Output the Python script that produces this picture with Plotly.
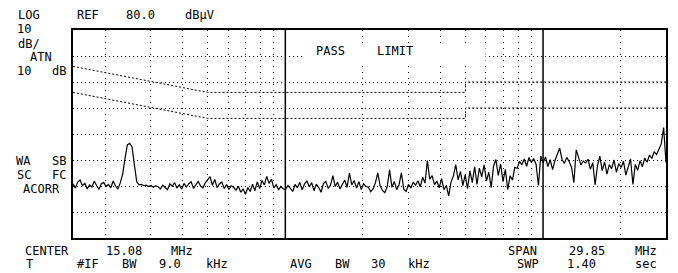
import re
import numpy as np
import plotly.graph_objects as go

# ---------------- data ----------------
# measured trace levels (dBuV), sweep 0.15 MHz .. 30 MHz (log display)
seg_a = [20.8, 19.2, 21.5, 22.3, 20.1, 21.0, 18.9, 20.4, 19.6, 21.8, 20.2, 18.7,
         20.9, 21.4, 19.8, 20.6, 19.3, 21.9, 20.0, 18.8, 21.2]
seg_b = [24.5, 30.5, 35.8, 36.4, 35.0, 28.0, 21.5]
seg_c = [20.4, 20.6, 20.1, 20.3, 19.8, 20.2, 19.5, 20.0, 19.7, 18.9, 20.3, 19.4,
         18.6, 20.8, 19.9, 21.3, 19.2, 20.5, 18.8, 21.0, 19.6, 20.9, 21.6, 19.1,
         20.4, 21.8, 20.0, 19.3, 21.2, 22.4, 23.6, 20.3, 22.5, 19.4, 20.8, 21.5,
         19.0, 20.6, 18.7, 20.1, 19.5, 18.4, 19.9, 17.6, 18.9, 16.8, 19.4, 17.9,
         20.7, 18.2, 21.6, 19.0, 22.1, 20.4, 23.7, 21.0, 22.6, 19.3, 20.5, 18.6,
         19.8, 18.9]
seg_d = [18.7, 20.2, 19.0, 17.9, 20.6, 19.3, 21.4, 18.5, 20.8, 22.0, 19.6, 21.3,
         18.2, 20.7, 19.4, 17.6, 20.9, 21.8, 19.1, 20.3, 24.0, 19.8, 21.5, 18.9,
         20.6, 22.3, 19.5, 25.0, 20.4, 22.1, 19.2, 21.7, 18.6, 20.9, 19.8]
seg_e = [19.6, 17.8, 18.9, 21.2, 25.0, 20.1, 18.3, 17.4, 19.8, 26.2, 19.5, 21.7,
         18.6, 20.4, 25.1, 18.8, 17.9, 20.6, 19.2, 21.5, 20.3, 22.0, 19.7, 23.4,
         21.1, 29.8, 22.6, 24.0, 20.5, 21.9, 19.3, 22.8, 18.6, 20.2, 16.2, 21.5,
         23.8, 28.2, 22.4, 25.6, 20.1, 24.3]
seg_f = [19.0, 25.8, 21.3, 27.4, 20.6, 26.9, 23.5, 28.1, 22.0, 25.3, 19.4, 27.6,
         30.2, 24.1, 28.5, 21.7, 26.4, 18.6, 23.9, 22.3, 27.2]
seg_g = [26.8, 29.5, 28.2, 30.4, 27.6, 31.0, 29.1, 30.6, 28.4, 20.2, 31.5]
seg_h = [28.9, 31.2, 27.5, 30.1, 26.3, 29.8, 32.4, 34.6, 30.2, 28.7, 31.0, 29.4,
         27.2, 21.3, 33.9, 30.5, 28.1, 29.6, 28.9, 30.3, 26.4, 29.0, 20.4, 27.8,
         31.5, 25.9, 29.3, 24.6, 28.2, 26.7, 30.0, 25.3, 28.6, 27.1, 29.5, 24.2,
         27.9, 30.4, 20.6, 28.3, 26.0, 29.7, 27.4, 30.8, 29.1, 31.9, 30.6, 33.2,
         32.1, 34.4, 36.2, 42.5, 29.0]
levels = seg_a + seg_b + seg_c + seg_d + seg_e + seg_f + seg_g + seg_h
f_start, f_stop = 0.15, 30.0
freqs = np.geomspace(f_start, f_stop, len(levels))

# limit lines (EN 55022 class B)
limit_freq = [0.15, 0.5, 5, 5, 30]
qp_limit = [66, 56, 56, 60, 60]
avg_limit = [56, 46, 46, 50, 50]

# grid / reference
ref_level = 80
db_per_div = 10
minor_grid_mhz = [0.2, 0.3, 0.4, 0.5, 0.6, 0.7, 0.8, 0.9,
                  2, 3, 4, 5, 6, 7, 8, 9, 20]
decades_mhz = [1, 10]

# screen annotations (page pixel positions: left x of first char, centre y)
screen_text = [
    ("LOG", 14, 15.5),
    ("REF 80.0 dBµV", 72.7, 15.5),
    ("10", 14, 29.5),
    ("dB/", 14, 43.5),
    (" ATN", 14, 57.5),
    ("10 dB", 14, 71),
    ("WA SB", 14, 161),
    ("SC FC", 14, 174.5),
    ("ACORR", 14, 189),
    ("CENTER 15.08 MHz", 14, 251),
    ("SPAN 29.85 MHz", 503, 251),
    (" T", 14, 264),
    ("#IF BW 9.0 kHz", 72.7, 264),
    ("AVG BW 30 kHz", 286.7, 264),
    ("SWP 1.40  sec", 514.7, 264),
    ("PASS LIMIT", 310, 50.5),
]

# ---------------- layout geometry ----------------
OFF = 8                      # page body margin
W, H = 678 - OFF, 273 - OFF
L, R = 73 - OFF, 10
T = 30 - OFF
B = H - (238 - OFF)
PW, PH = W - L - R, H - T - B
PITCH = 11.8
FONT = "DejaVu Sans Mono"


def px(x):
    return (x - OFF - L) / PW


def py(y):
    return (T + PH - (y - OFF)) / PH


fig = go.Figure()

# decade lines (solid)
dx, dy = [], []
for d in decades_mhz:
    dx += [d, d, None]
    dy += [0, ref_level, None]
fig.add_trace(go.Scatter(x=dx, y=dy, mode="lines",
                         line=dict(color="black", width=1.5),
                         hoverinfo="skip", showlegend=False))

# limit lines
for lim in (qp_limit, avg_limit):
    fig.add_trace(go.Scatter(x=limit_freq, y=lim, mode="lines",
                             line=dict(color="black", width=1, dash="2px,2px"),
                             hoverinfo="skip", showlegend=False))

# measured trace
fig.add_trace(go.Scatter(x=freqs, y=levels, mode="lines",
                         line=dict(color="black", width=1.2),
                         hoverinfo="skip", showlegend=False))

annotations = []
for text, x0, yc in screen_text:
    for m in re.finditer(r"\S+", text):
        word = m.group(0)
        start = x0 + m.start() * PITCH
        width = (len(word) - 1) * PITCH + 7
        annotations.append(dict(
            text=word, x=px(start + width / 2), y=py(yc),
            xref="paper", yref="paper", xanchor="center", yanchor="middle",
            showarrow=False, font=dict(family=FONT, size=12, color="black")))

shapes = [dict(type="rect", xref="paper", yref="paper",
               x0=px(304), x1=px(487), y0=py(62), y1=py(47),
               fillcolor="white", line=dict(width=0), layer="above")]

fig.update_layout(
    width=W, height=H,
    margin=dict(l=L, r=R, t=T, b=B, pad=0),
    paper_bgcolor="white", plot_bgcolor="white",
    showlegend=False,
    annotations=annotations,
    shapes=shapes,
    xaxis=dict(type="log", range=[np.log10(f_start), np.log10(f_stop)],
               tickvals=minor_grid_mhz, showticklabels=False, ticks="",
               showgrid=True, gridcolor="black", gridwidth=1, griddash="1px,5px",
               showline=True, linecolor="black", linewidth=1.5, mirror=True,
               zeroline=False),
    yaxis=dict(range=[ref_level - 8 * db_per_div, ref_level],
               tickvals=[ref_level - k * db_per_div for k in range(1, 8)],
               showticklabels=False, ticks="",
               showgrid=True, gridcolor="black", gridwidth=1, griddash="1px,3px",
               showline=True, linecolor="black", linewidth=1.5, mirror=True,
               zeroline=False),
)

fig.write_html("out.html")
